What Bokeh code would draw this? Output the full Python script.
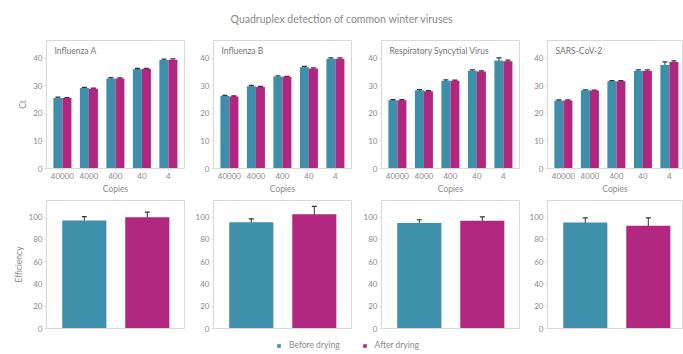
from bokeh.plotting import figure
from bokeh.layouts import column, row
from bokeh.models import (ColumnDataSource, Whisker, Label, FixedTicker, Range1d,
                          Legend, LegendItem, TeeHead)
from bokeh.core.properties import value
from bokeh.embed import file_html
from bokeh.resources import INLINE

# ---- data -------------------------------------------------------------
title_text = "Quadruplex detection of common winter viruses"
viruses = ["Influenza A", "Influenza B", "Respiratory Syncytial Virus", "SARS-CoV-2"]
copies = ["40000", "4000", "400", "40", "4"]
series = ["Before drying", "After drying"]

# Ct values per dilution (before / after drying) and their errors
ct_before_flu_a = [25.6, 29.2, 32.7, 36.1, 39.4]
ct_after_flu_a = [25.6, 29.0, 32.7, 36.2, 39.5]
ct_before_flu_b = [26.3, 29.9, 33.4, 36.8, 39.9]
ct_after_flu_b = [26.2, 29.6, 33.3, 36.3, 39.9]
ct_before_rsv = [24.8, 28.4, 31.9, 35.5, 39.2]
ct_after_rsv = [24.8, 28.1, 31.9, 35.2, 39.0]
ct_before_sars = [24.7, 28.4, 31.7, 35.5, 37.6]
ct_after_sars = [24.7, 28.3, 31.7, 35.5, 38.7]

ct_err_before_flu_a = [0.3, 0.3, 0.3, 0.3, 0.3]
ct_err_after_flu_a = [0.2, 0.2, 0.2, 0.2, 0.3]
ct_err_before_flu_b = [0.3, 0.3, 0.3, 0.3, 0.3]
ct_err_after_flu_b = [0.2, 0.2, 0.2, 0.3, 0.3]
ct_err_before_rsv = [0.2, 0.3, 0.3, 0.3, 1.0]
ct_err_after_rsv = [0.2, 0.2, 0.2, 0.3, 0.4]
ct_err_before_sars = [0.2, 0.2, 0.2, 0.3, 1.1]
ct_err_after_sars = [0.2, 0.2, 0.2, 0.3, 0.4]

# amplification efficiency (%) before / after drying
eff_before = [97.0, 95.5, 94.7, 95.3]
eff_after = [100.0, 102.7, 96.8, 92.3]
eff_err_before = [3.5, 3.0, 3.0, 4.0]
eff_err_after = [4.5, 7.0, 3.5, 7.0]

ct_ticks = [0, 10, 20, 30, 40]
eff_ticks = [0, 20, 40, 60, 80, 100]

# ---- styling ----------------------------------------------------------
FONT = "Lato"
TEAL = "#3e8fa9"
MAGENTA = "#b1267f"
TEXT = "#8a8a8a"
LINE = "#d9d9d9"
ERR = "#333333"

# per-column frame geometry (px)
frame_w = [138, 138, 138, 135]
border_l = [46, 27, 28, 26]
border_r = [2, 2, 2, 1]

ct_pairs = [
    (ct_before_flu_a, ct_after_flu_a, ct_err_before_flu_a, ct_err_after_flu_a),
    (ct_before_flu_b, ct_after_flu_b, ct_err_before_flu_b, ct_err_after_flu_b),
    (ct_before_rsv, ct_after_rsv, ct_err_before_rsv, ct_err_after_rsv),
    (ct_before_sars, ct_after_sars, ct_err_before_sars, ct_err_after_sars),
]


def style_axes(p):
    p.outline_line_color = LINE
    p.xgrid.visible = False
    p.ygrid.visible = False
    p.background_fill_color = "white"
    p.border_fill_color = "white"
    for ax in p.axis:
        ax.axis_line_color = LINE
        ax.major_tick_line_color = LINE
        ax.minor_tick_line_color = None
        ax.major_tick_out = 2
        ax.major_tick_in = 0
        ax.major_label_text_font = FONT
        ax.major_label_text_font_size = "8px"
        ax.major_label_text_color = TEXT
        ax.major_label_standoff = 2
        ax.axis_label_text_font = FONT
        ax.axis_label_text_font_size = "8.5px"
        ax.axis_label_text_font_style = "normal"
        ax.axis_label_text_color = TEXT
        ax.axis_label_standoff = 2


def add_whiskers(p, xs, vals, errs, head):
    src = ColumnDataSource(dict(
        x=xs,
        upper=[v + e for v, e in zip(vals, errs)],
        lower=[v - e for v, e in zip(vals, errs)],
    ))
    w = Whisker(source=src, base="x", upper="upper", lower="lower",
                line_color=ERR, line_width=1,
                upper_head=TeeHead(size=head, line_color=ERR, line_width=1.2),
                lower_head=TeeHead(size=head, line_color=ERR, line_width=1.2))
    p.add_layout(w)


def ct_panel(i):
    before, after, eb, ea = ct_pairs[i]
    n = len(copies)
    px_per_unit = 26.5
    x0 = -0.6
    x1 = x0 + frame_w[i] / px_per_unit
    p = figure(frame_width=frame_w[i], frame_height=128,
               min_border_left=border_l[i], min_border_right=border_r[i],
               min_border_top=8, min_border_bottom=28,
               x_range=Range1d(x0, x1), y_range=Range1d(0, 46.5),
               output_backend="svg", toolbar_location=None)
    xs = list(range(n))
    off = 0.17
    src_b = ColumnDataSource(dict(x=[x - off for x in xs], top=before))
    src_a = ColumnDataSource(dict(x=[x + off for x in xs], top=after))
    p.vbar(x="x", top="top", width=0.34, source=src_b, fill_color=TEAL, line_color=None)
    p.vbar(x="x", top="top", width=0.34, source=src_a, fill_color=MAGENTA, line_color=None)
    add_whiskers(p, [x - off for x in xs], before, eb, 5)
    add_whiskers(p, [x + off for x in xs], after, ea, 5)

    p.xaxis.ticker = FixedTicker(ticks=xs)
    p.xaxis.major_label_overrides = {x: c for x, c in zip(xs, copies)}
    p.xaxis.axis_label = "Copies"
    p.yaxis.ticker = FixedTicker(ticks=ct_ticks)
    if i == 0:
        p.yaxis.axis_label = "Ct"
    style_axes(p)
    p.add_layout(Label(x=x0, y=46.5, x_offset=8, y_offset=-15, text=viruses[i],
                       text_font=FONT, text_font_size="8.5px",
                       text_color="#777777"))
    return p


def eff_panel(i):
    px_per_unit = 63.0
    x0 = -0.6
    x1 = x0 + frame_w[i] / px_per_unit
    p = figure(frame_width=frame_w[i], frame_height=128,
               min_border_left=border_l[i], min_border_right=border_r[i],
               min_border_top=4, min_border_bottom=4,
               x_range=Range1d(x0, x1), y_range=Range1d(0, 115),
               output_backend="svg", toolbar_location=None)
    src = ColumnDataSource(dict(x=[0, 1], top=[eff_before[i], eff_after[i]],
                                color=[TEAL, MAGENTA]))
    p.vbar(x="x", top="top", width=0.7, source=src, fill_color="color", line_color=None)
    add_whiskers(p, [0, 1], [eff_before[i], eff_after[i]],
                 [eff_err_before[i], eff_err_after[i]], 5)
    p.xaxis.ticker = FixedTicker(ticks=[])
    p.yaxis.ticker = FixedTicker(ticks=eff_ticks)
    if i == 0:
        p.yaxis.axis_label = "Efficiency"
    style_axes(p)
    return p


# ---- header -------------------------------------------------------------
head = figure(width=683, height=32, x_range=Range1d(0, 683), y_range=Range1d(0, 32),
              output_backend="svg", toolbar_location=None, min_border=0)
head.axis.visible = False
head.grid.visible = False
head.outline_line_color = None
head.text(x=[341.5], y=[14], text=[title_text], text_align="center",
          text_baseline="middle", text_font=value(FONT), text_font_size="10.5px",
          text_color=TEXT)

# ---- legend strip ---------------------------------------------------------
foot = figure(width=683, height=22, x_range=Range1d(0, 683), y_range=Range1d(0, 22),
              output_backend="svg", toolbar_location=None, min_border=0)
foot.axis.visible = False
foot.grid.visible = False
foot.outline_line_color = None
# swatch renderers sit outside the visible range; only their legend glyphs show
r_b = foot.scatter(x=[-50], y=[-50], marker="square", size=9, fill_color=TEAL, line_color=None)
r_a = foot.scatter(x=[-50], y=[-50], marker="square", size=9, fill_color=MAGENTA, line_color=None)
leg = Legend(items=[LegendItem(label=series[0], renderers=[r_b]),
                    LegendItem(label=series[1], renderers=[r_a])],
             orientation="horizontal", location=(274, 4))
leg.label_text_font = FONT
leg.label_text_font_size = "8.5px"
leg.label_text_color = TEXT
leg.glyph_width = 9
leg.glyph_height = 9
leg.label_standoff = 6
leg.spacing = 20
leg.padding = 2
leg.margin = 0
leg.border_line_color = None
leg.background_fill_alpha = 0
foot.add_layout(leg)

top_row = row(*[ct_panel(i) for i in range(4)])
bottom_row = row(*[eff_panel(i) for i in range(4)])
layout = column(head, top_row, bottom_row, foot)

open("out.html", "w").write(file_html(layout, INLINE))
